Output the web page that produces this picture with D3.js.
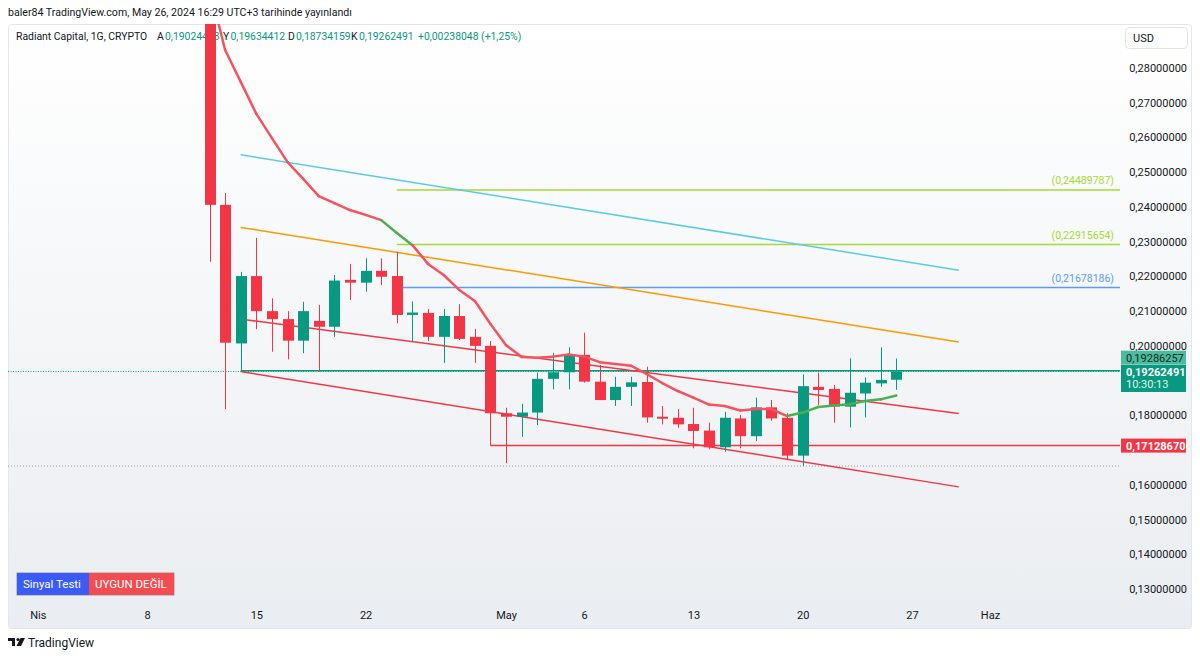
<!DOCTYPE html>
<html>
<head>
<meta charset="utf-8">
<script src="https://cdn.jsdelivr.net/npm/d3@7"></script>
<style>
  body { margin: 0; background: #fff; }
  text { font-family: Roboto, "Open Sans", sans-serif; }
</style>
</head>
<body>
<div id="chart"></div>
<script>
// data ---------------------------------------------------------------
var firstDay = "2024-04-12";
var opens  = [0.3050,0.2406,0.2007,0.2201,0.2100,0.2077,0.2015,0.2072,0.2055,0.2190,0.2182,0.2216,0.2201,0.2089,0.2095,0.2026,0.2086,0.2026,0.2000,0.1806,0.1796,0.1808,0.1905,0.1924,0.1974,0.1897,0.1844,0.1882,0.1896,0.1796,0.1793,0.1775,0.1756,0.1708,0.1791,0.1740,0.1823,0.1793,0.1684,0.1882,0.1876,0.1825,0.1863,0.1892,0.19024443];
var highs  = [0.3150,0.2440,0.2213,0.2311,0.2137,0.2100,0.2127,0.2118,0.2204,0.2236,0.2252,0.2252,0.2271,0.2128,0.2106,0.2106,0.2120,0.2049,0.2014,0.1822,0.1833,0.1923,0.1980,0.1996,0.2038,0.1945,0.1911,0.1911,0.1940,0.1827,0.1818,0.1822,0.1779,0.1810,0.1801,0.1851,0.1844,0.1806,0.1918,0.1923,0.1887,0.1964,0.1909,0.1996,0.19634412];
var lows   = [0.2242,0.1818,0.1926,0.2048,0.1983,0.1961,0.1979,0.1926,0.2026,0.2132,0.2156,0.2175,0.2065,0.2012,0.2014,0.1951,0.2017,0.1951,0.1712867,0.1662,0.1738,0.1772,0.1875,0.1875,0.1894,0.1844,0.1827,0.1827,0.1779,0.1774,0.1764,0.1705,0.1702,0.1695,0.1705,0.1726,0.1784,0.1671,0.1654,0.1830,0.1779,0.1765,0.1794,0.1882,0.18734159];
var closes = [0.2406,0.2009,0.2201,0.2100,0.2077,0.2015,0.2100,0.2055,0.2188,0.2182,0.2216,0.2199,0.2089,0.2096,0.2026,0.2086,0.2020,0.2000,0.1806,0.1796,0.1808,0.1905,0.1924,0.1974,0.1897,0.1844,0.1882,0.1895,0.1794,0.1791,0.1774,0.1755,0.1708,0.1793,0.1740,0.1823,0.1791,0.1684,0.1884,0.1873,0.1825,0.1865,0.1894,0.1902,0.19262491];
var maValues = [0.3030,0.2852,0.2760,0.2668,0.2598,0.2529,0.2481,0.2431,0.2411,0.2391,0.2377,0.2362,0.2325,0.2290,0.2236,0.2204,0.2161,0.2129,0.2063,0.2002,0.1968,0.1966,0.1969,0.1975,0.1969,0.1953,0.1948,0.1943,0.1919,0.1893,0.1870,0.1851,0.1831,0.1827,0.1814,0.1818,0.1818,0.1798,0.1808,0.1824,0.1828,0.1832,0.1841,0.1846,0.1857];
var maGreen  = [0,0,0,0,0,0,0,0,0,0,0,0,1,1,0,0,0,0,0,0,0,0,0,0,0,0,0,0,0,0,0,0,0,0,0,0,0,0,1,1,1,1,1,1,1];

// trend lines: [start day, start price, end day, end price, colour]
var trendLines = [
  ["2024-04-14", 0.2550, "2024-05-30", 0.2218, "#5ccbe0"],
  ["2024-04-14", 0.2341, "2024-05-30", 0.2011, "#ff9800"],
  ["2024-04-14", 0.2077, "2024-05-30", 0.1805, "#f23645"],
  ["2024-04-14", 0.1926, "2024-05-30", 0.1594, "#f23645"]
];
// horizontal levels: [start day, price, colour, label]
var levels = [
  ["2024-04-24", 0.24489787, "#a8d935", "(0,24489787)"],
  ["2024-04-24", 0.22915654, "#a8d935", "(0,22915654)"],
  ["2024-04-24", 0.21678186, "#5b9cf6", "(0,21678186)"],
  ["2024-04-30", 0.17128670, "#f23645", null],
  ["2024-04-14", 0.19286257, "#089981", null]
];
var lastPrice = 0.19262491;
var lowLine = 0.1654;
var priceTicks = [0.13,0.14,0.15,0.16,0.18,0.20,0.21,0.22,0.23,0.24,0.25,0.26,0.27,0.28];
var timeTicks = ["2024-04-01","2024-04-08","2024-04-15","2024-04-22","2024-05-01","2024-05-06","2024-05-13","2024-05-20","2024-05-27","2024-06-01"];
var monthNames = {3: "Nis", 4: "May", 5: "Haz"};

// setup ---------------------------------------------------------------
var W = 1200, H = 659;
var green = "#089981", red = "#f23645";
var parse = d3.utcParse("%Y-%m-%d");
var day0 = parse(firstDay);
var dates = opens.map(function (d, i) { return d3.utcDay.offset(day0, i); });

var svg = d3.select("#chart").append("svg").attr("width", W).attr("height", H);

var defs = svg.append("defs");
var grad = defs.append("linearGradient").attr("id", "bg").attr("x1", 0).attr("y1", 0).attr("x2", 0).attr("y2", 1);
grad.append("stop").attr("offset", "0%").attr("stop-color", "#ffffff");
grad.append("stop").attr("offset", "100%").attr("stop-color", "#eaedf1");
defs.append("clipPath").attr("id", "plot").append("rect")
  .attr("x", 8).attr("y", 24).attr("width", 1112).attr("height", 580);

svg.append("rect").attr("width", W).attr("height", H).attr("fill", "#fff");
svg.append("rect").attr("x", 8.5).attr("y", 24.5).attr("width", 1183).attr("height", 604)
  .attr("rx", 3).attr("fill", "url(#bg)").attr("stroke", "#e3e6ec");

// header
svg.append("text").attr("x", 8).attr("y", 16).attr("font-size", "10.6px").attr("fill", "#131722")
  .text("baler84 TradingView.com, May 26, 2024 16:29 UTC+3 tarihinde yayınlandı");

// scales
var x = d3.scaleUtc().domain([parse("2024-04-01"), parse("2024-06-01")]).range([37.8, 990]);
var y = d3.scaleLinear().domain([0.13, 0.28]).range([589, 68]);
var fmt = function (v) { return v.toFixed(8).replace(".", ","); };

// legend (under the candles, as in the picture)
var legend = svg.append("g").attr("font-size", "10.4px");
var legendParts = [
  ["Radiant Capital, 1G, CRYPTO", "#131722", 16],
  ["A", "#131722", 157], ["0,19024443", green, 165],
  ["Y", "#131722", 223], ["0,19634412", green, 230.5],
  ["D", "#131722", 288], ["0,18734159", green, 296],
  ["K", "#131722", 351], ["0,19262491", green, 359],
  ["+0,00238048 (+1,25%)", green, 418]
];
legendParts.forEach(function (p) {
  legend.append("text").attr("x", p[2]).attr("y", 40).attr("fill", p[1]).text(p[0]);
});

var plot = svg.append("g").attr("clip-path", "url(#plot)");

// dotted lines across the whole pane
plot.append("line").attr("x1", 8).attr("x2", 1120).attr("y1", y(lowLine)).attr("y2", y(lowLine))
  .attr("stroke", "#9598a1").attr("stroke-dasharray", "1,2");
plot.append("line").attr("x1", 8).attr("x2", 1120).attr("y1", y(lastPrice)).attr("y2", y(lastPrice))
  .attr("stroke", green).attr("stroke-dasharray", "1,1.5");

// horizontal levels
levels.forEach(function (l) {
  plot.append("line").attr("x1", x(parse(l[0]))).attr("x2", 1120)
    .attr("y1", y(l[1])).attr("y2", y(l[1])).attr("stroke", l[2]).attr("stroke-width", 1.5);
  if (l[3]) {
    plot.append("text").attr("x", 1114).attr("y", y(l[1]) - 6).attr("text-anchor", "end")
      .attr("font-size", "10.5px").attr("fill", l[2]).text(l[3]);
  }
});

// trend lines
plot.selectAll(".trend").data(trendLines).enter().append("line")
  .attr("x1", function (d) { return x(parse(d[0])); })
  .attr("y1", function (d) { return y(d[1]); })
  .attr("x2", function (d) { return x(parse(d[2])); })
  .attr("y2", function (d) { return y(d[3]); })
  .attr("stroke", function (d) { return d[4]; })
  .attr("stroke-width", 1.5);

// candles
var bw = 11;
var candles = plot.selectAll(".candle").data(dates).enter().append("g");
candles.append("line")
  .attr("x1", function (d) { return Math.round(x(d)) + 0.5; })
  .attr("x2", function (d) { return Math.round(x(d)) + 0.5; })
  .attr("y1", function (d, i) { return y(highs[i]); })
  .attr("y2", function (d, i) { return y(lows[i]); })
  .attr("stroke", function (d, i) { return closes[i] >= opens[i] ? green : red; });
candles.append("rect")
  .attr("x", function (d) { return Math.round(x(d)) + 0.5 - bw / 2; })
  .attr("width", bw)
  .attr("y", function (d, i) { return y(Math.max(opens[i], closes[i])); })
  .attr("height", function (d, i) { return Math.max(2, Math.abs(y(opens[i]) - y(closes[i]))); })
  .attr("fill", function (d, i) { return closes[i] >= opens[i] ? green : red; });

// moving average, coloured per segment
var maLine = d3.line().x(function (d) { return x(d[0]); }).y(function (d) { return y(d[1]); });
for (var i = 1; i < maValues.length; i++) {
  plot.append("path")
    .attr("d", maLine([[dates[i - 1], maValues[i - 1]], [dates[i], maValues[i]]]))
    .attr("fill", "none")
    .attr("stroke", maGreen[i] ? "#4caf50" : "#f7525f")
    .attr("stroke-width", 2.5)
    .attr("stroke-linecap", "round");
}

// price axis
var yAxis = svg.append("g").attr("transform", "translate(1187,0)")
  .call(d3.axisLeft(y).tickValues(priceTicks).tickSize(0).tickPadding(0).tickFormat(fmt));
yAxis.select(".domain").remove();
yAxis.selectAll("text").attr("font-size", "11px").attr("fill", "#131722").attr("font-family", "Roboto");

svg.append("rect").attr("x", 1125.5).attr("y", 27.5).attr("width", 62).attr("height", 21).attr("rx", 4)
  .attr("fill", "#fff").attr("stroke", "#e0e3eb");
svg.append("text").attr("x", 1133).attr("y", 42).attr("font-size", "11px").attr("fill", "#131722").text("USD");

// time axis
var xAxis = svg.append("g").attr("transform", "translate(0,606)")
  .call(d3.axisBottom(x).tickValues(timeTicks.map(parse)).tickSize(0).tickPadding(5)
    .tickFormat(function (d) { return d.getUTCDate() === 1 ? monthNames[d.getUTCMonth()] : d.getUTCDate(); }));
xAxis.select(".domain").remove();
xAxis.selectAll("text").attr("font-size", "11px").attr("fill", "#131722").attr("font-family", "Roboto");

// price labels on the axis
var yl = y(0.19286257), yp = y(lastPrice), yr = y(0.1712867);
svg.append("rect").attr("x", 1121).attr("y", yl - 20).attr("width", 65).attr("height", 14).attr("fill", "#4dbb9f");
svg.append("text").attr("x", 1126).attr("y", yl - 9).attr("font-size", "11px").attr("fill", "#0b2e26").text(fmt(0.19286257));
svg.append("rect").attr("x", 1121).attr("y", yp - 6.5).attr("width", 65).attr("height", 27).attr("fill", green);
svg.append("text").attr("x", 1126).attr("y", yp + 5).attr("font-size", "11px").attr("font-weight", "bold").attr("fill", "#fff").text(fmt(lastPrice));
svg.append("text").attr("x", 1126).attr("y", yp + 17).attr("font-size", "11px").attr("fill", "#e0f2ee").text("10:30:13");
svg.append("rect").attr("x", 1121).attr("y", yr - 7).attr("width", 65).attr("height", 14).attr("fill", red);
svg.append("text").attr("x", 1126).attr("y", yr + 4).attr("font-size", "11px").attr("font-weight", "bold").attr("fill", "#fff").text(fmt(0.1712867));

// signal box
svg.append("rect").attr("x", 16.5).attr("y", 572.5).attr("width", 158).attr("height", 23).attr("fill", "#9598a1");
svg.append("rect").attr("x", 17).attr("y", 573).attr("width", 72).attr("height", 22).attr("fill", "#3a5cf5");
svg.append("rect").attr("x", 89).attr("y", 573).attr("width", 85).attr("height", 22).attr("fill", "#f24e52");
svg.append("text").attr("x", 23).attr("y", 588).attr("font-size", "11.5px").attr("fill", "#fff").text("Sinyal Testi");
svg.append("text").attr("x", 95).attr("y", 588).attr("font-size", "11.5px").attr("fill", "#fff").text("UYGUN DEĞİL");

// footer logo
var logo = svg.append("g").attr("fill", "#131722");
logo.append("path").attr("d", "M8,638h7v8h-3v-5h-4z");
logo.append("circle").attr("cx", 18).attr("cy", 639.5).attr("r", 1.6);
logo.append("path").attr("d", "M20.5,638h4.5l-4,8h-4.5z");
svg.append("text").attr("x", 28).attr("y", 647).attr("font-size", "12px").attr("fill", "#131722").text("TradingView");
</script>
</body>
</html>
